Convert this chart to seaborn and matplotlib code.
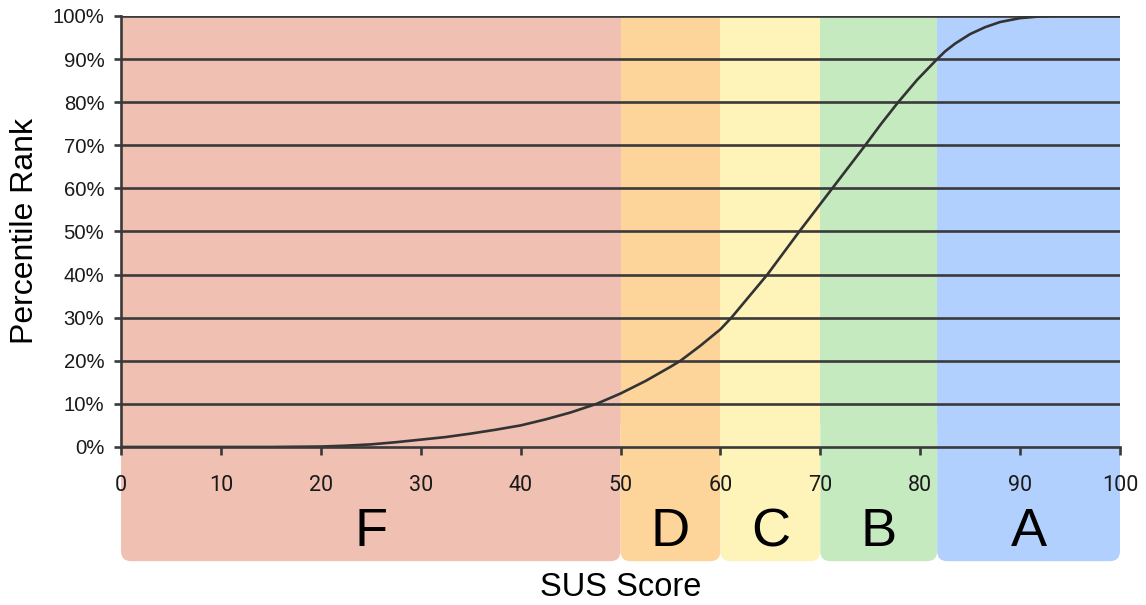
import numpy as np
import pandas as pd
import seaborn as sns
import matplotlib.pyplot as plt
from matplotlib.patches import FancyBboxPatch, Rectangle

# Courbe percentile
sus_score = [0, 15, 20, 22.5, 25, 27.5, 30, 32.5, 35, 37.5, 40, 42.5, 45, 47.6, 50,
             52.5, 55, 56, 58, 60, 61.1, 62.9, 64.7, 66.3, 67.9, 69.55, 71.2, 72.85,
             74.5, 76.1, 77.8, 79.7, 81.7, 82.5, 83.5, 85, 86.5, 88, 90, 92, 94, 100]
percentile = [0, 0, 0.1, 0.3, 0.6, 1.1, 1.7, 2.3, 3.1, 4.0, 5.0, 6.4, 8.0, 10, 12.4,
              15.3, 18.6, 20, 23.5, 27.3, 30, 35, 40, 45, 50, 55, 60, 65,
              70, 75, 80, 85.2, 90, 91.8, 93.6, 95.8, 97.4, 98.6, 99.5, 99.9, 100, 100]

# Bandes de notes
grades = ['F', 'D', 'C', 'B', 'A']
grade_start = [0, 50, 60, 70, 81.7]
grade_end = [50, 60, 70, 81.7, 100]
grade_colors = ['#F0C1B2', '#FDD49A', '#FEF3B9', '#C6EAC0', '#B2D0FE']

df = pd.DataFrame({'SUS Score': sus_score, 'Percentile Rank': percentile})

sns.set_style('white')
plt.rcParams['font.family'] = ['Liberation Sans', 'DejaVu Sans']

fig = plt.figure(figsize=(11.46, 6.05), dpi=100)
ax = fig.add_axes([0.1056, 0.2612, 0.8717, 0.7124])
ax.set_xlim(0, 100)
ax.set_ylim(0, 100)

line_col = '#3a3a3a'
band_bottom = -26.5
aspect = (0.8717 * 1146 / 100) / (0.7124 * 605 / 100)

for g, x0, x1, c in zip(grades, grade_start, grade_end, grade_colors):
    # partie arrondie en bas
    box = FancyBboxPatch((x0, band_bottom), x1 - x0, 40,
                         boxstyle='round,pad=0,rounding_size=1',
                         mutation_aspect=aspect, facecolor=c, edgecolor='none',
                         clip_on=False, zorder=0)
    ax.add_patch(box)
    ax.add_patch(Rectangle((x0, 5), x1 - x0, 95, facecolor=c, edgecolor='none',
                           zorder=0))
    ax.text((x0 + x1) / 2, -19.8, g, ha='center', va='center', fontsize=39,
            color='black', clip_on=False)

for v in range(10, 101, 10):
    ax.axhline(v, color=line_col, lw=1.9, zorder=1)

sns.lineplot(data=df, x='SUS Score', y='Percentile Rank', color='#333333',
             lw=1.9, ax=ax, zorder=3)

ax.set_xticks(range(0, 101, 10))
ax.set_yticks(range(0, 101, 10))
ax.set_yticklabels([f'{v}%' for v in range(0, 101, 10)])
ax.tick_params(axis='x', direction='out', length=6, width=1.9, color=line_col,
               pad=14, labelsize=15.5, bottom=True)
ax.tick_params(axis='y', direction='out', length=5, width=1.9, color=line_col,
               pad=7, labelsize=14.6, left=True)
for lab in ax.get_xticklabels():
    lab.set_family(['Roboto', 'DejaVu Sans'])
    lab.set_color('#1a1a1a')
for lab in ax.get_yticklabels():
    lab.set_color('#1a1a1a')

for s in ['top', 'right']:
    ax.spines[s].set_visible(False)
for s in ['left', 'bottom']:
    ax.spines[s].set_color(line_col)
    ax.spines[s].set_linewidth(1.9)
    ax.spines[s].set_zorder(4)

ax.set_xlabel('SUS Score', fontsize=23.5, color='black')
ax.set_ylabel('Percentile Rank', fontsize=23, color='black')
ax.xaxis.set_label_coords(0.5, -0.29)
ax.yaxis.set_label_coords(-0.081, 0.5)

fig.savefig('out.png', dpi=100)
